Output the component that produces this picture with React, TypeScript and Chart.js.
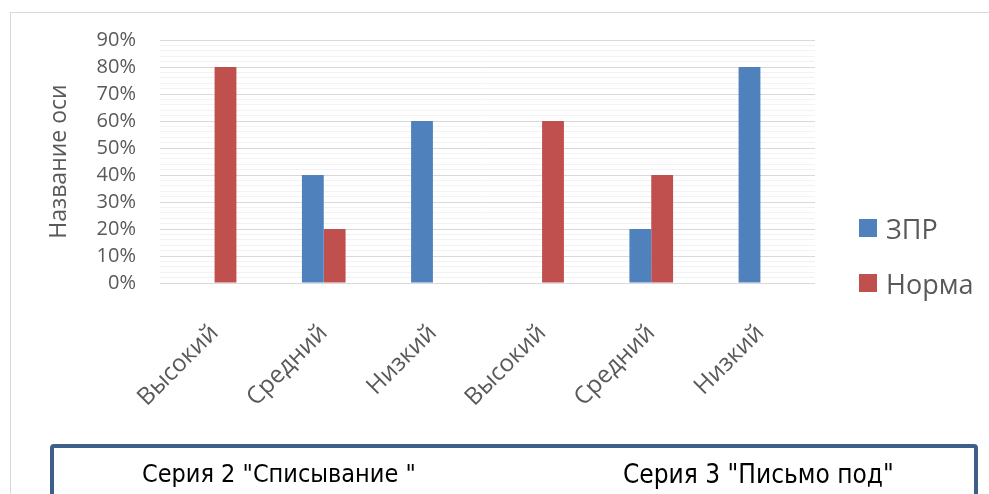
import React, { useEffect, useRef } from "react";
import { Chart, registerables } from "chart.js";

Chart.register(...registerables);

const categories = ["Высокий", "Средний", "Низкий", "Высокий", "Средний", "Низкий"];
const zprValues = [0, 40, 60, 0, 20, 80];
const normaValues = [80, 20, 0, 60, 40, 0];
const seriesNames = ["ЗПР", "Норма"];
const seriesColors = ["#4F81BD", "#C0504D"];
const axisTitle = "Название оси";
const yMax = 90;
const yMinorStep = 2;
const yMajorStep = 10;
const footerLabels = ['Серия 2 "Списывание "', 'Серия 3 "Письмо под"'];

const FONT = "'Open Sans', 'Noto Sans', sans-serif";

export default function App() {
  const canvasRef = useRef<HTMLCanvasElement | null>(null);

  useEffect(() => {
    document.body.style.margin = "0";
    const canvas = canvasRef.current;
    if (!canvas) return;
    const chart = new Chart(canvas, {
      type: "bar",
      data: {
        labels: categories,
        datasets: [
          { label: seriesNames[0], data: zprValues, backgroundColor: seriesColors[0] },
          { label: seriesNames[1], data: normaValues, backgroundColor: seriesColors[1] },
        ],
      },
      options: {
        animation: false,
        responsive: false,
        maintainAspectRatio: false,
        datasets: { bar: { categoryPercentage: 0.4, barPercentage: 1 } },
        layout: { padding: { left: 10, right: 174, top: 40, bottom: 51 } },
        plugins: { legend: { display: false }, tooltip: { enabled: false } },
        scales: {
          x: {
            grid: { display: false },
            border: { display: false },
            ticks: {
              autoSkip: false,
              minRotation: 45,
              maxRotation: 45,
              padding: 28,
              color: "#595959",
              font: { family: FONT, size: 24 },
            },
            afterFit: (s: any) => {
              s.height = 160;
            },
          },
          y: {
            min: 0,
            max: yMax,
            border: { display: false },
            grid: {
              drawTicks: false,
              color: (ctx: any) =>
                ctx.tick && ctx.tick.value % yMajorStep === 0 ? "#D9D9D9" : "#F2F2F2",
              lineWidth: 1,
            },
            ticks: {
              stepSize: yMinorStep,
              autoSkip: false,
              padding: 24,
              color: "#595959",
              font: { family: FONT, size: 20 },
              callback: (v: any) => (Number(v) % yMajorStep === 0 ? v + "%" : ""),
            },
            title: {
              display: true,
              text: axisTitle,
              color: "#595959",
              font: { family: FONT, size: 23 },
              padding: { top: 36, bottom: 0 },
            },
            afterFit: (s: any) => {
              s.width = 150;
            },
          },
        },
      },
    });
    return () => chart.destroy();
  }, []);

  return (
    <div style={{ position: "relative", width: 989, height: 494, overflow: "hidden", background: "#fff" }}>
      <div
        style={{
          position: "absolute",
          left: 10,
          top: 12,
          width: 1000,
          height: 600,
          borderLeft: "1px solid #D9D9D9",
          borderTop: "1px solid #D9D9D9",
        }}
      />
      <canvas ref={canvasRef} width={989} height={494} style={{ position: "absolute", left: 0, top: 0 }} />
      {seriesNames.map((name, i) => (
        <div
          key={name}
          style={{
            position: "absolute",
            left: 859,
            top: 210 + i * 55,
            height: 36,
            display: "flex",
            alignItems: "center",
            fontFamily: FONT,
            fontSize: 27,
            color: "#595959",
            whiteSpace: "nowrap",
          }}
        >
          <span style={{ display: "inline-block", width: 18, height: 18, background: seriesColors[i], marginRight: 9 }} />
          {name}
        </div>
      ))}
      <div
        style={{
          position: "absolute",
          left: 50,
          top: 444,
          width: 920,
          height: 80,
          border: "4px solid #3E5F8A",
          borderRadius: 4,
        }}
      />
      {footerLabels.map((t, i) => (
        <div
          key={t}
          style={{
            position: "absolute",
            left: i === 0 ? 142 : 623,
            top: 459,
            fontFamily: "'Liberation Sans Narrow', 'DejaVu Sans Condensed', sans-serif",
            fontSize: i === 0 ? 25 : 26,
            color: "#000",
            whiteSpace: "pre",
          }}
        >
          {t}
        </div>
      ))}
    </div>
  );
}
